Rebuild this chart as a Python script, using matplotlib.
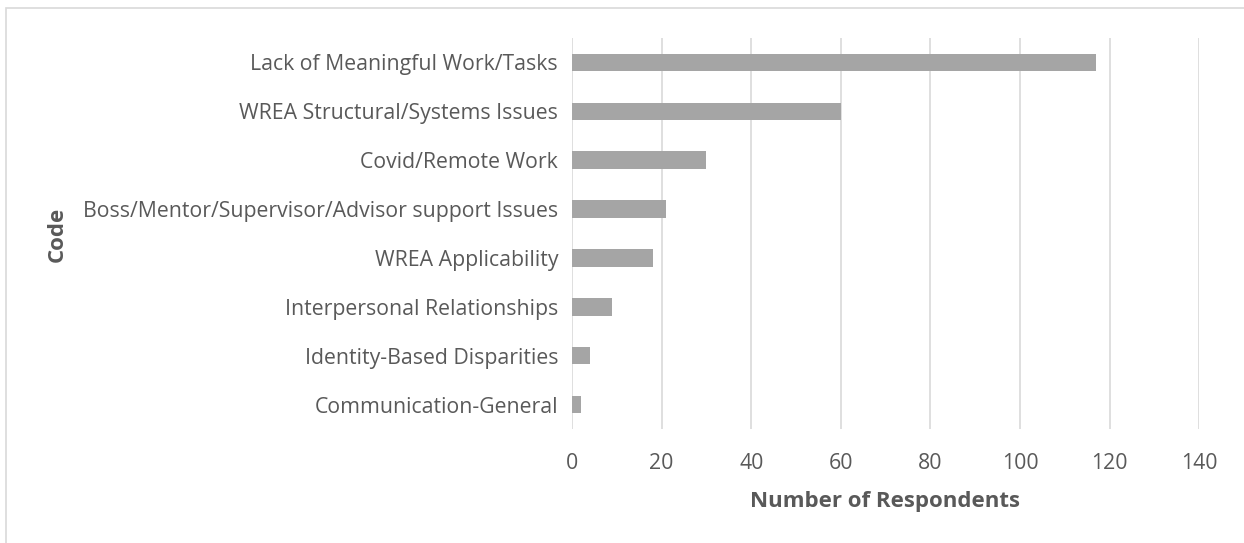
import matplotlib.pyplot as plt
from matplotlib.patches import Rectangle

# Data
codes = ['Lack of Meaningful Work/Tasks',
         'WREA Structural/Systems Issues',
         'Covid/Remote Work',
         'Boss/Mentor/Supervisor/Advisor support Issues',
         'WREA Applicability',
         'Interpersonal Relationships',
         'Identity-Based Disparities',
         'Communication-General']
counts = [117, 60, 30, 21, 18, 9, 4, 2]
xticks = [0, 20, 40, 60, 80, 100, 120, 140]

plt.rcParams['font.family'] = ['Open Sans', 'DejaVu Sans']
txt = '#595959'

fig = plt.figure(figsize=(12.44, 5.43), dpi=100)
ax = fig.add_axes([572 / 1244, 1 - 429 / 543, (1199.3 - 572) / 1244, (429 - 38) / 543])

pos = list(range(len(codes)))[::-1]
ax.barh(pos, counts, height=0.36, color='#A5A5A5', zorder=3)
ax.set_ylim(-0.5, len(codes) - 0.5)
ax.set_xlim(0, 140)
ax.set_xticks(xticks)
ax.set_yticks(pos)
ax.set_yticklabels(codes)
ax.grid(axis='x', color='#D9D9D9', linewidth=1.2, zorder=0)
for s in ax.spines.values():
    s.set_visible(False)
ax.tick_params(axis='both', length=0, colors=txt, labelsize=15.3)
ax.tick_params(axis='y', pad=10)
ax.tick_params(axis='x', pad=17)
fig.text(885.5 / 1244, 1 - 501 / 543, 'Number of Respondents', ha='center', va='center',
         fontsize=16, fontweight='bold', color=txt)
fig.text(57 / 1244, 1 - 234 / 543, 'Code', rotation=90, ha='center', va='center',
         fontsize=16, fontweight='bold', color=txt)

# outer chart border
fig.patches.append(Rectangle((6 / 1244, -0.1), 1.1, 1 - 8 / 543 + 0.1, transform=fig.transFigure,
                             fill=False, edgecolor='#D9D9D9', linewidth=1.2))

fig.savefig('out.png', dpi=100)
